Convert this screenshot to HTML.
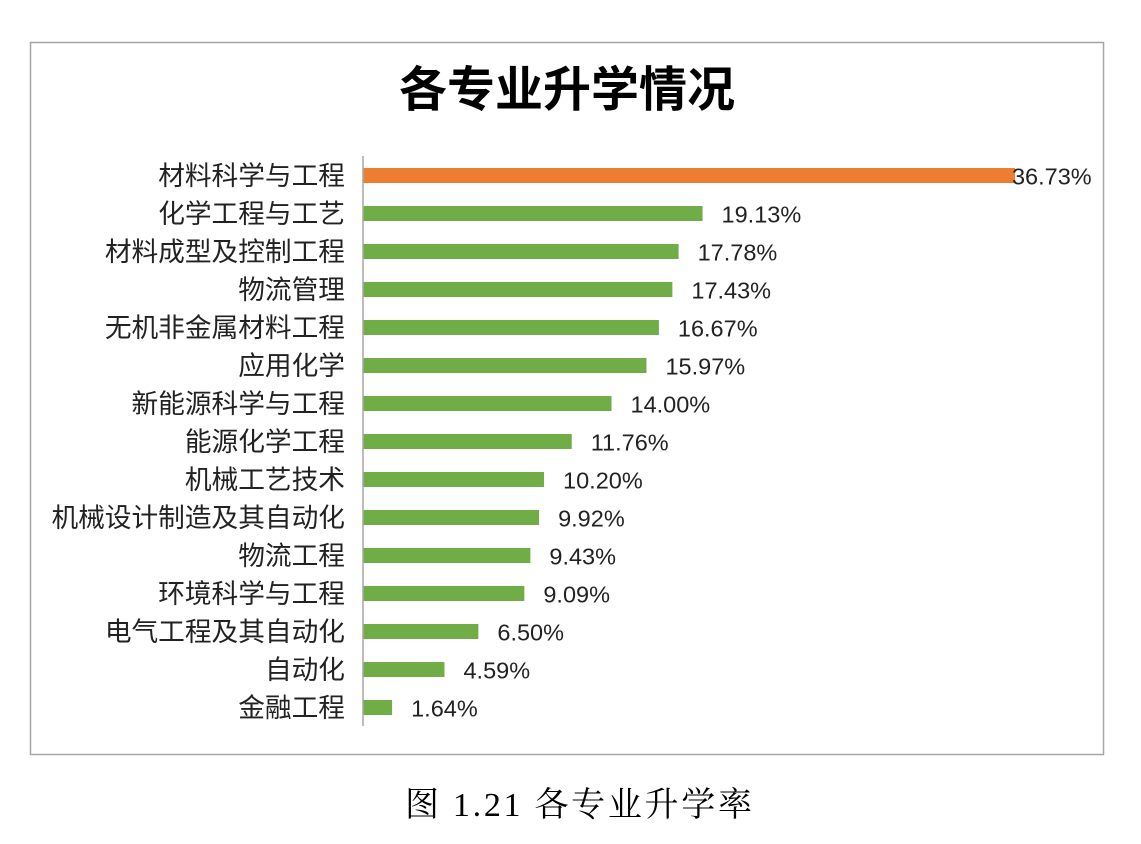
<!DOCTYPE html>
<html><head><meta charset="utf-8"><style>
body{margin:0;background:#fff;width:1141px;height:839px;overflow:hidden;font-family:"Liberation Sans","Noto Sans CJK SC",sans-serif}
</style></head><body>
<svg width="1141" height="839">
<rect x="30.5" y="42.5" width="1073" height="712" fill="#fff" stroke="#a6a6a6" stroke-width="1.5"/>
<text x="567" y="106" text-anchor="middle" font-size="48" font-weight="bold" font-family="Liberation Sans,Noto Sans CJK SC,sans-serif">各专业升学情况</text>
<g id="bars"></g>
<line x1="363" y1="156" x2="363" y2="726" stroke="#a6a6a6" stroke-width="1.5"/>
<text x="405" y="816" textLength="347" lengthAdjust="spacing" font-size="34" font-family="Liberation Serif,Noto Serif CJK SC,serif">图 1.21 各专业升学率</text>
</svg>
<script>
const categories=["材料科学与工程","化学工程与工艺","材料成型及控制工程","物流管理","无机非金属材料工程","应用化学","新能源科学与工程","能源化学工程","机械工艺技术","机械设计制造及其自动化","物流工程","环境科学与工程","电气工程及其自动化","自动化","金融工程"];
const values=[36.73,19.13,17.78,17.43,16.67,15.97,14.00,11.76,10.20,9.92,9.43,9.09,6.50,4.59,1.64];
const labels=["36.73%","19.13%","17.78%","17.43%","16.67%","15.97%","14.00%","11.76%","10.20%","9.92%","9.43%","9.09%","6.50%","4.59%","1.64%"];
const ns="http://www.w3.org/2000/svg";
const g=document.getElementById('bars');
const x=v=>363+v*17.75;
const y=i=>175.5+i*38;
categories.forEach((c,i)=>{
 const r=document.createElementNS(ns,'rect');
 r.setAttribute('x',363);r.setAttribute('y',y(i)-7.5);
 r.setAttribute('width',x(values[i])-363);r.setAttribute('height',15);
 r.setAttribute('fill',i===0?'#ed7d31':'#70ad47');
 
 
 g.appendChild(r);
 const t=document.createElementNS(ns,'text');
 t.setAttribute('x',345);t.setAttribute('y',y(i)+9.5);
 t.setAttribute('text-anchor','end');t.setAttribute('font-size','26.7');t.setAttribute('fill','#222');
 t.textContent=c;
 
 
 g.appendChild(t);
 const v=document.createElementNS(ns,'text');
 v.setAttribute('x',i===0?x(values[i])-3:x(values[i])+19);v.setAttribute('y',y(i)+9);
 v.setAttribute('font-size','23.5');v.setAttribute('fill','#222');
 v.textContent=labels[i];
 
 
 g.appendChild(v);
});
</script>
</body></html>
